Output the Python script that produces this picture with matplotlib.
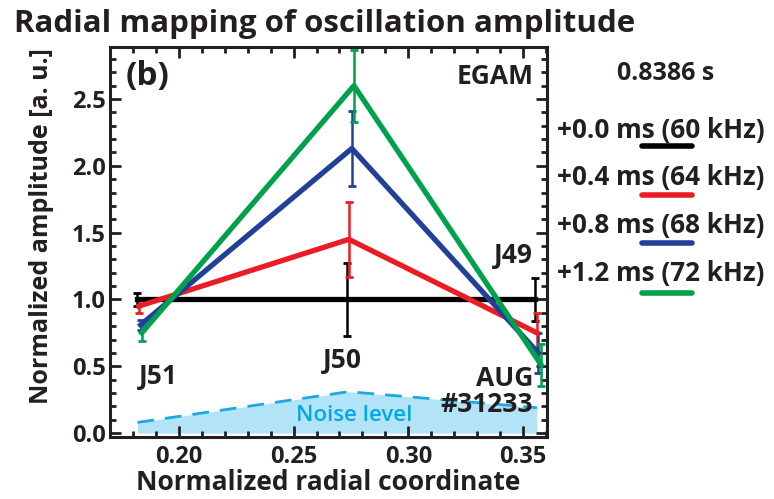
import numpy as np
import matplotlib.pyplot as plt
from matplotlib.lines import Line2D
from matplotlib.ticker import MultipleLocator

plt.rcParams['font.family'] = ['Open Sans', 'DejaVu Sans']
plt.rcParams['font.weight'] = 'bold'
plt.rcParams['axes.labelweight'] = 'bold'

# radial positions of the three channels (J51, J50, J49), slightly shifted per series
x_black = [0.1817, 0.2733, 0.3553]
x_red = [0.1826, 0.2741, 0.3561]
x_blue = [0.1834, 0.2754, 0.3566]
x_green = [0.1839, 0.2763, 0.3579]

amp_black = [1.0, 1.0, 1.0]
amp_red = [0.95, 1.45, 0.75]
amp_blue = [0.81, 2.13, 0.60]
amp_green = [0.75, 2.60, 0.51]

err_black = [0.05, 0.27, 0.16]
err_red = [0.05, 0.28, 0.15]
err_blue = [0.04, 0.28, 0.15]
err_green = [0.06, 0.27, 0.16]

noise_x = [0.182, 0.274, 0.356]
noise_y = [0.08, 0.31, 0.19]

labels = ['+0.0 ms (60 kHz)', '+0.4 ms (64 kHz)', '+0.8 ms (68 kHz)', '+1.2 ms (72 kHz)']
colors = ['#000000', '#ec1c24', '#21409a', '#00a14b']
ink = '#231f20'

fig = plt.figure(figsize=(7.74, 4.99), dpi=100)
ax = fig.add_axes([0.142, 0.124, 0.565, 0.782])

ax.fill_between(noise_x, 0, noise_y, color='#b3e3f7', lw=0)
ax.plot(noise_x, noise_y, color='#1ba9e1', lw=2, dashes=(6, 4))

series = [(x_black, amp_black, err_black), (x_red, amp_red, err_red),
          (x_blue, amp_blue, err_blue), (x_green, amp_green, err_green)]
for (xs, ys, es), c in zip(series, colors):
    ax.errorbar(xs, ys, yerr=es, color=c, lw=3.8, elinewidth=1.8, capsize=3,
                capthick=2, zorder=3)

ax.set_xlim(0.170, 0.3605)
ax.set_ylim(-0.03, 2.89)
ax.xaxis.set_major_locator(MultipleLocator(0.05))
ax.xaxis.set_minor_locator(MultipleLocator(0.01))
ax.yaxis.set_major_locator(MultipleLocator(0.5))
ax.yaxis.set_minor_locator(MultipleLocator(0.1))
ax.xaxis.set_major_formatter(plt.FormatStrFormatter('%.2f'))
ax.yaxis.set_major_formatter(plt.FormatStrFormatter('%.1f'))
ax.tick_params(which='both', direction='in', top=True, right=True, width=2,
               labelsize=17, colors=ink, pad=3)
ax.tick_params(axis='x', pad=6)
ax.tick_params(which='major', length=8)
ax.tick_params(which='minor', length=4)
for s in ax.spines.values():
    s.set_linewidth(2.2)
    s.set_color(ink)

ax.set_xlabel('Normalized radial coordinate', fontsize=19, color=ink, labelpad=0)
ax.set_ylabel('Normalized amplitude [a. u.]', fontsize=18, color=ink)
ax.yaxis.set_label_coords(-0.128, 0.54)

txt = dict(color=ink, fontsize=19)
ax.text(0.036, 0.923, '(b)', transform=ax.transAxes, ha='left', va='center', fontsize=24, color=ink)
ax.text(0.968, 0.923, 'EGAM', transform=ax.transAxes, ha='right', va='center', **txt)
ax.text(0.1913, 0.42, 'J51', ha='center', va='center', **txt)
ax.text(0.2711, 0.54, 'J50', ha='center', va='center', **txt)
ax.text(0.3544, 1.33, 'J49', ha='right', va='center', **txt)
ax.text(0.3544, 0.31, 'AUG\n#31233', ha='right', va='center', linespacing=0.95, **txt)
ax.text(0.2763, 0.134, 'Noise level', ha='center', va='center', color='#00a9e8',
        fontsize=16, fontweight='semibold')

fig.text(0.018, 1 - 24 / 499, 'Radial mapping of oscillation amplitude', fontsize=22.5,
         color=ink, ha='left', va='center')

fig.text(666 / 774, 1 - 73 / 499, '0.8386 s', fontsize=18, color=ink, ha='center', va='center')
row_y = [131, 178, 226, 273]
bar_y = [146, 195, 243, 293]
for lab, c, ty, by in zip(labels, colors, row_y, bar_y):
    fig.text(557 / 774, 1 - ty / 499, lab, fontsize=18.8, color=ink, ha='left', va='center')
    fig.add_artist(Line2D([642 / 774, 692 / 774], [1 - by / 499] * 2, color=c, lw=4,
                          solid_capstyle='round', transform=fig.transFigure))

fig.savefig('out.png', dpi=100)
